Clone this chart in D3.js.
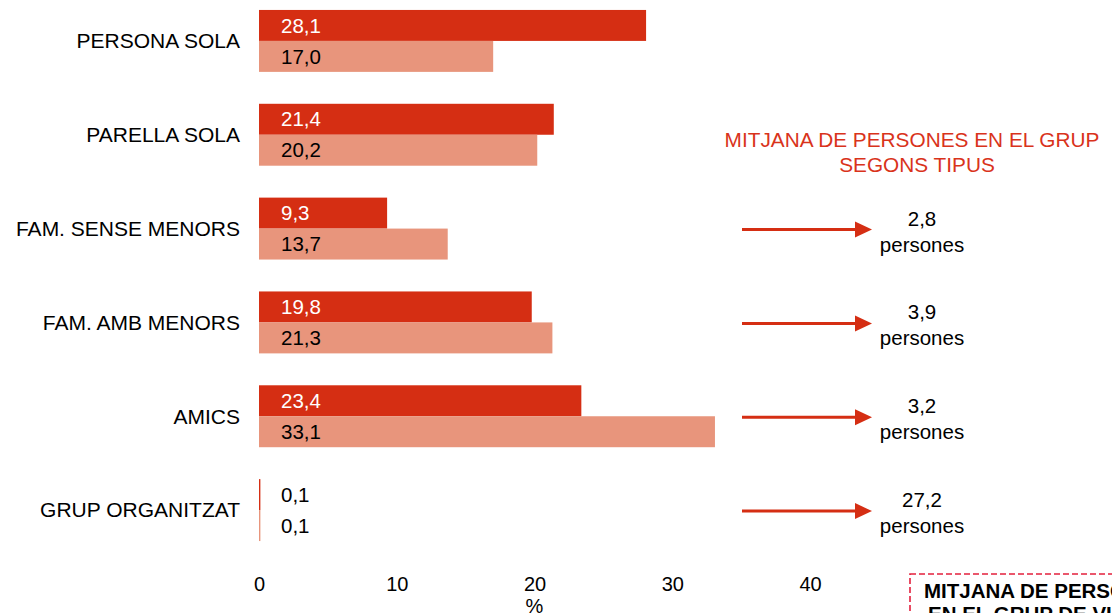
<!DOCTYPE html>
<html>
<head>
<meta charset="utf-8">
<script src="https://cdn.jsdelivr.net/npm/d3@7/dist/d3.min.js"></script>
<style>
  html, body { margin: 0; padding: 0; background: #ffffff; }
  svg { display: block; font-family: "Liberation Sans", Arial, sans-serif; }
</style>
</head>
<body>
<svg id="chart" width="1112" height="613"></svg>
<script>
// ---- data ----
const categories = ["PERSONA SOLA", "PARELLA SOLA", "FAM. SENSE MENORS", "FAM. AMB MENORS", "AMICS", "GRUP ORGANITZAT"];
const seriesNames = ["dark", "light"];
const seriesDark = [28.1, 21.4, 9.3, 19.8, 23.4, 0.1];
const seriesLight = [17.0, 20.2, 13.7, 21.3, 33.1, 0.1];
const avgCategories = ["FAM. SENSE MENORS", "FAM. AMB MENORS", "AMICS", "GRUP ORGANITZAT"];
const avgValues = [2.8, 3.9, 3.2, 27.2];
const xTicks = [0, 10, 20, 30, 40];
const avgTitle = ["MITJANA DE PERSONES EN EL GRUP", "SEGONS TIPUS"];
const boxTitle = ["MITJANA DE PERSONES", "EN EL GRUP DE VIATGE"];
const axisTitle = "%";
const unitLabel = "persones";

// ---- styles ----
const colDark = "#d52e13";
const colLight = "#e8957c";

const svg = d3.select("#chart");
const locale = d3.formatLocale({ decimal: ",", thousands: ".", grouping: [3], currency: ["", "€"] });
const fmt = locale.format(".1f");

const x = d3.scaleLinear().domain([0, 40]).range([259, 810]);
const y = d3.scaleBand().domain(categories).range([-6, 557]).paddingInner(0.34).paddingOuter(0.17);
const ys = d3.scaleBand().domain(seriesNames).range([0, y.bandwidth()]);

const rows = categories.map((c, i) => ({ cat: c, vals: [
  { s: "dark", v: seriesDark[i] },
  { s: "light", v: seriesLight[i] }
]}));

const g = svg.append("g");
const groups = g.selectAll("g.row").data(rows).join("g")
  .attr("class", "row")
  .attr("transform", d => `translate(0,${y(d.cat)})`);

groups.selectAll("rect").data(d => d.vals).join("rect")
  .attr("x", x(0))
  .attr("y", d => ys(d.s))
  .attr("width", d => x(d.v) - x(0))
  .attr("height", ys.bandwidth())
  .attr("fill", d => d.s === "dark" ? colDark : colLight);

groups.selectAll("text.val").data(d => d.vals).join("text")
  .attr("class", "val")
  .attr("x", x(0) + 22)
  .attr("y", d => ys(d.s) + ys.bandwidth() / 2)
  .attr("dy", "0.35em")
  .attr("font-size", 20.5)
  .attr("fill", d => (d.s === "dark" && x(d.v) - x(0) > 60) ? "#ffffff" : "#000000")
  .text(d => fmt(d.v));

// category labels
g.selectAll("text.cat").data(categories).join("text")
  .attr("class", "cat")
  .attr("x", 240)
  .attr("y", d => y(d) + y.bandwidth() / 2)
  .attr("dy", "0.35em")
  .attr("text-anchor", "end")
  .attr("font-size", 21)
  .attr("fill", "#000")
  .text(d => d);

// x axis
const axis = d3.axisBottom(x).tickValues(xTicks).tickSize(0).tickPadding(0).tickFormat(d3.format("d"));
const ax = svg.append("g").attr("transform", "translate(0,577)").call(axis);
ax.select(".domain").remove();
ax.selectAll("text").attr("font-size", 20).attr("fill", "#000").attr("font-family", "Liberation Sans, Arial, sans-serif");

svg.append("text")
  .attr("x", x(20)).attr("y", 613)
  .attr("text-anchor", "middle").attr("font-size", 20).attr("fill", "#000")
  .text(axisTitle);

// average annotation title
svg.append("text")
  .attr("y", 147)
  .attr("text-anchor", "middle").attr("font-size", 20.8).attr("fill", "#d9331b")
  .selectAll("tspan").data(avgTitle).join("tspan")
  .attr("x", (d, i) => i === 0 ? 912 : 917)
  .attr("dy", (d, i) => i === 0 ? 0 : 25)
  .text(d => d);

// arrows + averages
const ann = svg.append("g").selectAll("g").data(avgCategories.map((c, i) => ({ cat: c, v: avgValues[i] })))
  .join("g")
  .attr("transform", d => `translate(0,${y(d.cat) + y.bandwidth() / 2})`);

ann.append("line")
  .attr("x1", 742).attr("x2", 858).attr("y1", 1).attr("y2", 1)
  .attr("stroke", colDark).attr("stroke-width", 3);
ann.append("path")
  .attr("d", "M855,-7 L872,1 L855,9 Z")
  .attr("fill", colDark);
ann.append("text")
  .attr("x", 922).attr("y", -3)
  .attr("text-anchor", "middle").attr("font-size", 20.5).attr("fill", "#000")
  .text(d => fmt(d.v));
ann.append("text")
  .attr("x", 922).attr("y", 23)
  .attr("text-anchor", "middle").attr("font-size", 20.5).attr("fill", "#000")
  .text(unitLabel);

// dashed box (partially out of view)
svg.append("rect")
  .attr("x", 910).attr("y", 574).attr("width", 320).attr("height", 90)
  .attr("fill", "none").attr("stroke", "#e3203d").attr("stroke-width", 1.6)
  .attr("stroke-dasharray", "6,3");
svg.append("text")
  .attr("font-size", 20.5).attr("font-weight", "bold").attr("fill", "#000")
  .selectAll("tspan").data(boxTitle).join("tspan")
  .attr("x", (d, i) => i === 0 ? 924 : 928)
  .attr("y", (d, i) => i === 0 ? 598 : 621)
  .text(d => d);
</script>
</body>
</html>
